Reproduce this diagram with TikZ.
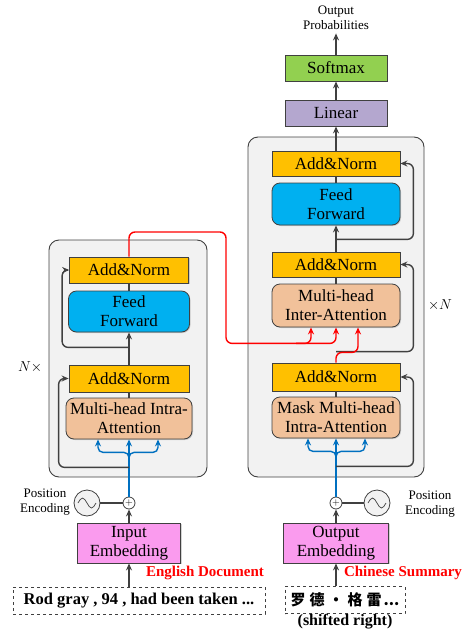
\documentclass[tikz,border=0pt]{standalone}
\usepackage{fontspec}
\setmainfont{Liberation Serif}
\newfontfamily\cjkfont{Noto Sans CJK SC}
\usetikzlibrary{calc,arrows.meta,shadows}

\definecolor{anorm}{RGB}{255,192,0}
\definecolor{ffblue}{RGB}{0,176,240}
\definecolor{attpeach}{RGB}{241,193,154}
\definecolor{smgreen}{RGB}{146,208,80}
\definecolor{linpurple}{RGB}{180,167,207}
\definecolor{embpink}{RGB}{250,155,238}
\definecolor{boxgray}{RGB}{242,242,242}
\definecolor{linegray}{RGB}{64,64,64}
\definecolor{arrblue}{RGB}{0,112,192}

\tikzset{
  blk/.style={draw=linegray, line width=0.8pt, minimum width=128pt, minimum height=26pt,
    inner sep=1pt, align=center, font=\fontsize{17}{19}\selectfont,
    drop shadow={shadow xshift=1pt, shadow yshift=-1pt, opacity=0.35}},
  addnorm/.style={blk, fill=anorm},
  ffwd/.style={blk, fill=ffblue, rounded corners=8pt, minimum height=42pt},
  attn/.style={blk, fill=attpeach, rounded corners=8pt, minimum height=42pt},
  emb/.style={blk, fill=embpink, minimum height=40pt},
  stack/.style={draw=linegray, line width=0.9pt, fill=boxgray, rounded corners=10pt},
  gline/.style={draw=linegray, line width=1.4pt},
  garr/.style={gline, rounded corners=6pt, -{Stealth[length=7pt,width=6pt]}},
  barr/.style={draw=arrblue, line width=1.4pt, rounded corners=5pt, -{Stealth[length=7pt,width=6pt]}},
  rarr/.style={draw=red, line width=1.4pt, rounded corners=6pt, -{Stealth[length=7pt,width=6pt]}},
  plusnode/.style={circle, draw=linegray, line width=0.8pt, fill=white, inner sep=0pt, minimum size=12pt, font=\fontsize{10}{10}\selectfont},
  sinenode/.style={circle, draw=linegray, line width=0.8pt, fill=gray!10, minimum size=26pt, inner sep=0pt},
  smalltext/.style={align=center, font=\fontsize{13}{15}\selectfont},
  seqbox/.style={draw=linegray, line width=0.9pt, dashed, minimum height=27pt, inner sep=2pt, font=\fontsize{16.5}{18}\selectfont\bfseries},
  redlabel/.style={text=red, font=\fontsize{15}{17}\selectfont\bfseries}
}

\begin{document}
\begin{tikzpicture}[x=1pt, y=-1pt]
\useasboundingbox (0,0) rectangle (463,632);

% stacks
\draw[stack] (49,240) rectangle (207,477);
\draw[stack] (248,137) rectangle (424,477);

% encoder
\node[addnorm, minimum width=119pt] (enc_an2) at (129,270) {Add\&Norm};
\node[ffwd, minimum width=121pt, minimum height=41pt] (enc_ff) at (129,311.5) {Feed\\Forward};
\node[addnorm, minimum width=120pt, minimum height=27pt] (enc_an1) at (129,378.5) {Add\&Norm};
\node[attn, minimum width=126pt, minimum height=41pt] (enc_att) at (129,418.5) {Multi-head Intra-\\Attention};
\node[font=\fontsize{14}{16}\selectfont] (enc_n) at (30,367) {$N\times$};

% decoder
\node[addnorm, minimum height=25pt] (dec_an3) at (336,163.5) {Add\&Norm};
\node[ffwd] (dec_ff) at (336,204) {Feed\\Forward};
\node[addnorm, minimum height=25pt] (dec_an2) at (336,264.5) {Add\&Norm};
\node[attn, minimum height=43pt] (dec_inter) at (336,305.5) {Multi-head\\Inter-Attention};
\node[addnorm, minimum height=28pt] (dec_an1) at (336,377) {Add\&Norm};
\node[attn, minimum height=41pt] (dec_mask) at (336,417.5) {Mask Multi-head\\Intra-Attention};
\node[font=\fontsize{14}{16}\selectfont] (dec_n) at (440,305) {$\times N$};

% output head
\node[blk, fill=linpurple, minimum width=102pt] (linear) at (336,113) {Linear};
\node[blk, fill=smgreen, minimum width=102pt] (softmax) at (336,68) {Softmax};
\node[smalltext] (outprob) at (336,18) {Output\\Probabilities};

% inputs
\node[emb, minimum width=103pt] (emb_in) at (129,543) {Input\\Embedding};
\node[emb, minimum width=105pt] (emb_out) at (336,543) {Output\\Embedding};
\node[plusnode] (plus_in) at (129,503) {$+$};
\node[plusnode] (plus_out) at (336,503) {$+$};
\node[sinenode] (sine_in) at (87,503) {};
\node[sinenode] (sine_out) at (377,503) {};
\node[smalltext] (pos_in) at (45,502) {Position\\Encoding};
\node[smalltext] (pos_out) at (430,504) {Position\\Encoding};
\node[seqbox, minimum width=252pt] (src) at (139,600.5) {Rod gray , 94 , had been taken ...};
\node[seqbox, minimum width=120pt, font=\fontsize{15}{17}\selectfont\bfseries\cjkfont] (tgt) at (345,600) {罗\hspace{4pt}德\hspace{4pt}·\hspace{4pt}格\hspace{4pt}雷\hspace{2pt}...};
\node[font=\fontsize{16}{18}\selectfont\bfseries] (shift) at (345,622) {(shifted right)};
\node[redlabel] (src_lab) at (205,573) {English Document};
\node[redlabel] (tgt_lab) at (403,573) {Chinese Summary};

% sine waves
\foreach \s in {sine_in, sine_out}
  \draw[linegray, line width=0.7pt] ($(\s)+(-9,0)$) sin ($(\s)+(-4.5,-5)$) cos ($(\s)$)
    sin ($(\s)+(4.5,5)$) cos ($(\s)+(9,0)$);
\draw[gline] (sine_in) -- (plus_in);
\draw[gline] (sine_out) -- (plus_out);

% encoder flow
\draw[garr] (src.north -| emb_in.south) -- (emb_in.south);
\draw[garr] (emb_in.north) -- (plus_in.south);
\draw[barr] (plus_in.north) -- (enc_att.south);
\draw[barr] ($(enc_att.south)+(0,23)$) |- ($(enc_att.south)+(-31,13)$) -- ($(enc_att.south)+(-31,0)$);
\draw[barr] ($(enc_att.south)+(0,23)$) |- ($(enc_att.south)+(29,13)$) -- ($(enc_att.south)+(29,0)$);
\draw[gline] (enc_att.north) -- (enc_an1.south);
\draw[garr] (enc_an1.north) -- (enc_ff.south);
\draw[gline] (enc_ff.north) -- (enc_an2.south);
\draw[garr] ($(enc_att.south)+(0,28)$) -| ($(enc_an1.west)+(-10,0)$) -- (enc_an1.west);
\draw[garr] ($(enc_ff.south)+(0,15)$) -| ($(enc_an2.west)+(-7,0)$) -- (enc_an2.west);

% decoder flow
\draw[garr] (tgt.north -| emb_out.south) -- (emb_out.south);
\draw[garr] (emb_out.north) -- (plus_out.south);
\draw[barr] (plus_out.north) -- (dec_mask.south);
\draw[barr] ($(dec_mask.south)+(0,23)$) |- ($(dec_mask.south)+(-28,13)$) -- ($(dec_mask.south)+(-28,0)$);
\draw[barr] ($(dec_mask.south)+(0,23)$) |- ($(dec_mask.south)+(29,13)$) -- ($(dec_mask.south)+(29,0)$);
\draw[gline] (dec_mask.north) -- (dec_an1.south);
\draw[garr] ($(dec_mask.south)+(0,28)$) -| ($(dec_an1.east)+(13,0)$) -- (dec_an1.east);
\draw[garr] ($(dec_an1.north)+(0,-11)$) -| ($(dec_an2.east)+(13,0)$) -- (dec_an2.east);
\draw[gline] (dec_inter.north) -- (dec_an2.south);
\draw[garr] (dec_an2.north) -- (dec_ff.south);
\draw[gline] (dec_ff.north) -- (dec_an3.south);
\draw[garr] ($(dec_ff.south)+(0,14)$) -| ($(dec_an3.east)+(13,0)$) -- (dec_an3.east);
\draw[garr] (dec_an3.north) -- (linear.south);
\draw[garr] (linear.north) -- (softmax.south);
\draw[garr] (softmax.north) -- (outprob.south);

% encoder to decoder
\draw[rarr] (enc_an2.north) |- (226,232) |- ($(dec_inter.south)+(-25,16)$) -- ($(dec_inter.south)+(-25,0)$);
\draw[rarr] ($(dec_inter.south)+(-40,16)$) -| (dec_inter.south);
\draw[rarr] (dec_an1.north) |- ($(dec_inter.south)+(22,25)$) -- ($(dec_inter.south)+(22,0)$);

\end{tikzpicture}
\end{document}
